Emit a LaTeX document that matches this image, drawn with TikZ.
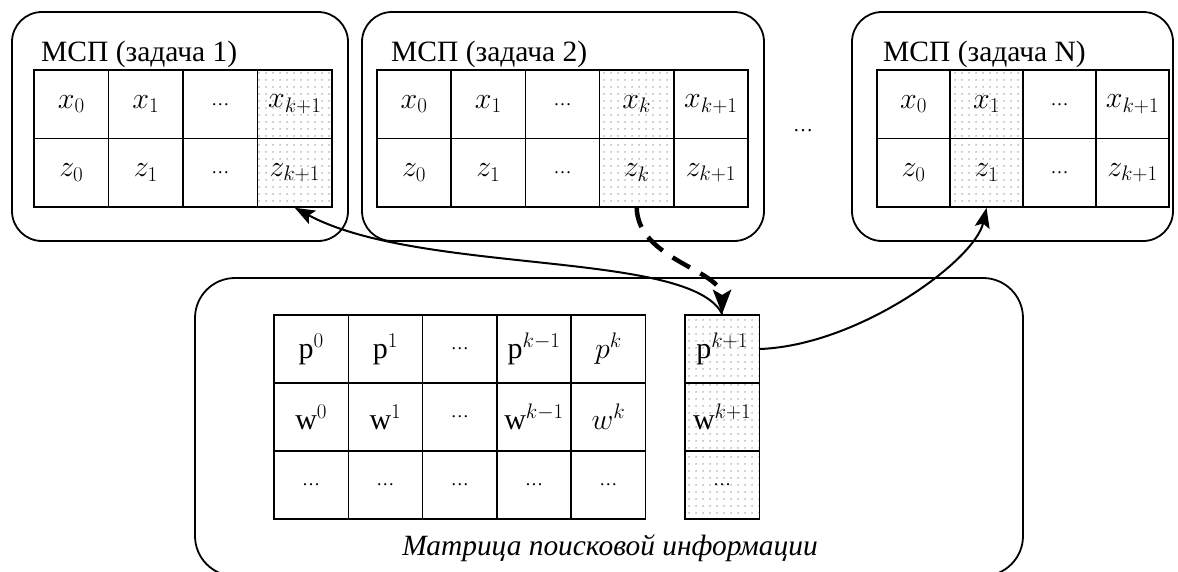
\RequirePackage{fix-cm}
\documentclass[tikz,border=0pt]{standalone}
\usepackage{fontspec}
\setmainfont{Liberation Serif}
\usetikzlibrary{arrows.meta,patterns.meta}
\newcommand\cellfnt{\fontsize{30}{32}\selectfont}
\newcommand\dotfnt{\fontsize{18}{20}\selectfont}
\newcommand\cdts{{\dotfnt …}}
\begin{document}
\begin{tikzpicture}[x=1pt,y=-1pt,
  cell/.style={draw, line width=1.6pt, minimum height=68.5pt, inner sep=0pt, font=\cellfnt},
  hl/.style={pattern={Dots[distance=6.5pt,radius=1pt]}, pattern color=black!30},
  box/.style={draw, line width=1.8pt, rounded corners=30pt},
  title/.style={font=\fontsize{29.5}{32}\selectfont, inner sep=0pt, anchor=base west},
  thin/.style={line width=2pt, -{Stealth[length=20pt,width=15pt,inset=4pt]}},
  thick/.style={line width=4.5pt, dash pattern=on 20pt off 12pt, -{Stealth[length=24pt,width=18pt,inset=5pt]}}]
\useasboundingbox (0,0) rectangle (1178,571);
\fill[white] (0,0) rectangle (1178,571);
\clip (0,0) rectangle (1178,571);

% containers
\draw[box] (12,12) rectangle (348,241);
\draw[box] (362,12) rectangle (764,241);
\draw[box] (852,12) rectangle (1173,241);
\draw[box, rounded corners=40pt] (195,278) rectangle (1023,576);

% titles
\node[title] (t1) at (41,61) {МСП (задача 1)};
\node[title] (t2) at (391,61) {МСП (задача 2)};
\node[title] (tN) at (883,61) {МСП (задача N)};
\node[font=\fontsize{20}{20}\selectfont, inner sep=0pt] (gap) at (803,131) {…};

% table 1
\begin{scope}[every node/.append style={minimum width=74.5pt}]
\node[cell] (a1x1) at (71.25,104.25) {$x_0$};
\node[cell] (a1x2) at (145.75,104.25) {$x_1$};
\node[cell] (a1x3) at (220.25,104.25) {\cdts};
\node[cell,hl] (a1x4) at (294.75,104.25) {$x_{k+1}$};
\node[cell] (a1z1) at (71.25,172.75) {$z_0$};
\node[cell] (a1z2) at (145.75,172.75) {$z_1$};
\node[cell] (a1z3) at (220.25,172.75) {\cdts};
\node[cell,hl] (a1z4) at (294.75,172.75) {$z_{k+1}$};
\end{scope}

% table 2
\begin{scope}[every node/.append style={minimum width=74.2pt}]
\node[cell] (a2x1) at (414.1,104.25) {$x_0$};
\node[cell] (a2x2) at (488.3,104.25) {$x_1$};
\node[cell] (a2x3) at (562.5,104.25) {\cdts};
\node[cell,hl] (a2x4) at (636.7,104.25) {$x_k$};
\node[cell] (a2x5) at (710.9,104.25) {$x_{k+1}$};
\node[cell] (a2z1) at (414.1,172.75) {$z_0$};
\node[cell] (a2z2) at (488.3,172.75) {$z_1$};
\node[cell] (a2z3) at (562.5,172.75) {\cdts};
\node[cell,hl] (a2z4) at (636.7,172.75) {$z_k$};
\node[cell] (a2z5) at (710.9,172.75) {$z_{k+1}$};
\end{scope}

% table N
\begin{scope}[every node/.append style={minimum width=73pt}]
\node[cell] (aNx1) at (913.5,104.25) {$x_0$};
\node[cell,hl] (aNx2) at (986.5,104.25) {$x_1$};
\node[cell] (aNx3) at (1059.5,104.25) {\cdts};
\node[cell] (aNx4) at (1132.5,104.25) {$x_{k+1}$};
\node[cell] (aNz1) at (913.5,172.75) {$z_0$};
\node[cell,hl] (aNz2) at (986.5,172.75) {$z_1$};
\node[cell] (aNz3) at (1059.5,172.75) {\cdts};
\node[cell] (aNz4) at (1132.5,172.75) {$z_{k+1}$};
\end{scope}

% search information matrix
\begin{scope}[every node/.append style={minimum width=74.3pt, minimum height=68pt}]
\node[cell] (mp1) at (311.15,349) {$\mathrm{p}^0$};
\node[cell] (mp2) at (385.45,349) {$\mathrm{p}^1$};
\node[cell] (mp3) at (459.75,349) {\cdts};
\node[cell] (mp4) at (534.05,349) {$\mathrm{p}^{k-1}$};
\node[cell] (mp5) at (608.35,349) {$p^k$};
\node[cell] (mw1) at (311.15,417) {$\mathrm{w}^0$};
\node[cell] (mw2) at (385.45,417) {$\mathrm{w}^1$};
\node[cell] (mw3) at (459.75,417) {\cdts};
\node[cell] (mw4) at (534.05,417) {$\mathrm{w}^{k-1}$};
\node[cell] (mw5) at (608.35,417) {$w^k$};
\node[cell] (md1) at (311.15,485) {\cdts};
\node[cell] (md2) at (385.45,485) {\cdts};
\node[cell] (md3) at (459.75,485) {\cdts};
\node[cell] (md4) at (534.05,485) {\cdts};
\node[cell] (md5) at (608.35,485) {\cdts};
\node[cell,hl] (np) at (722.15,349) {$\mathrm{p}^{k+1}$};
\node[cell,hl] (nw) at (722.15,417) {$\mathrm{w}^{k+1}$};
\node[cell,hl] (nd) at (722.15,485) {\cdts};
\end{scope}

\node[font=\fontsize{29.4}{32}\selectfont\itshape, inner sep=0pt, anchor=base] (cap) at (610,555) {Матрица поисковой информации};

% connectors
\draw[thin] (np.north) .. controls (690,250) and (420,275) .. (a1z4.south);
\draw[thin] (np.east) .. controls (860,345) and (975,260) .. (aNz2.south);
\draw[thick] (a2z4.south) .. controls (638,260) and (722,270) .. (np.north);
\end{tikzpicture}
\end{document}
